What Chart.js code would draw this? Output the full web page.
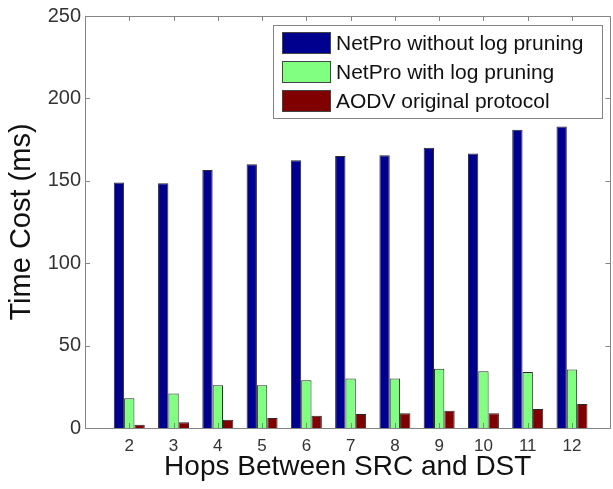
<!DOCTYPE html>
<html>
<head>
<meta charset="utf-8">
<script src="https://cdn.jsdelivr.net/npm/chart.js@4/dist/chart.umd.min.js"></script>
<style>
  body { margin: 0; background: #fff; }
  #wrap { width: 613px; height: 489px; }
</style>
</head>
<body>
<div id="wrap"><canvas id="chart" width="613" height="489"></canvas></div>
<script>
// data
const hops = [2, 3, 4, 5, 6, 7, 8, 9, 10, 11, 12];
const withoutPruning = [149, 148.5, 156.5, 160, 162.5, 165, 165.5, 170, 166.5, 181, 183];
const withPruning = [18, 21, 26, 26, 29, 30, 30, 36, 34.5, 34, 35.5];
const aodv = [2, 3.5, 5, 6, 7.5, 8.5, 9, 10.5, 9, 11.5, 14.5];
const yTicks = [0, 50, 100, 150, 200, 250];

const FONT = "'Liberation Sans', Arial, sans-serif";
const AXIS_GRAY = '#858585';

// MATLAB-like box with inward ticks + legend inside the axes
const matlabBox = {
    id: 'matlabBox',
    afterDatasetsDraw(chart) {
        const {ctx, chartArea: a, scales} = chart;
        ctx.save();
        ctx.strokeStyle = AXIS_GRAY;
        ctx.lineWidth = 1;
        ctx.beginPath();
        ctx.rect(Math.round(a.left) + 0.5, Math.round(a.top) + 0.5,
                 Math.round(a.right - a.left) - 1, Math.round(a.bottom - a.top));
        ctx.stroke();
        const len = 5;
        ctx.beginPath();
        scales.y.ticks.forEach(t => {
            const y = Math.round(scales.y.getPixelForValue(t.value)) + 0.5;
            ctx.moveTo(a.left, y); ctx.lineTo(a.left + len, y);
            ctx.moveTo(a.right, y); ctx.lineTo(a.right - len, y);
        });
        scales.x.ticks.forEach(t => {
            const x = Math.round(scales.x.getPixelForValue(t.value)) + 0.5;
            ctx.moveTo(x, a.bottom); ctx.lineTo(x, a.bottom - len);
            ctx.moveTo(x, a.top); ctx.lineTo(x, a.top + len);
        });
        ctx.stroke();

        // legend
        const lx = 273, ly = 25, lw = 329, lh = 93;
        ctx.fillStyle = '#fff';
        ctx.fillRect(lx, ly, lw, lh);
        ctx.strokeStyle = AXIS_GRAY;
        ctx.strokeRect(lx + 0.5, ly + 0.5, lw, lh);
        ctx.font = '21px ' + FONT;
        ctx.textBaseline = 'middle';
        chart.data.datasets.forEach((ds, i) => {
            const cy = 43 + i * 29;
            ctx.fillStyle = ds.backgroundColor;
            ctx.fillRect(282, cy - 11, 49, 22);
            ctx.strokeStyle = '#444';
            ctx.strokeRect(282.5, cy - 10.5, 48, 21);
            ctx.fillStyle = '#111';
            ctx.fillText(ds.label, 336, cy + 1);
        });
        ctx.restore();
    }
};

const ctx = document.getElementById('chart');

new Chart(ctx, {
    type: 'bar',
    data: {
        labels: hops,
        datasets: [
            { label: 'NetPro without log pruning', data: withoutPruning, backgroundColor: '#00008f' },
            { label: 'NetPro with log pruning', data: withPruning, backgroundColor: '#80ff80' },
            { label: 'AODV original protocol', data: aodv, backgroundColor: '#800000' }
        ]
    },
    options: {
        responsive: false,
        animation: false,
        layout: { padding: { top: 14, right: 2.5, left: 0, bottom: 0 } },
        datasets: {
            bar: {
                categoryPercentage: 0.7,
                barPercentage: 1,
                borderWidth: 1,
                borderColor: '#2a2a2a'
            }
        },
        plugins: {
            legend: { display: false },
            tooltip: { enabled: false }
        },
        scales: {
            x: {
                type: 'linear',
                offset: false,
                min: 1,
                max: 12.87,
                afterBuildTicks: s => { s.ticks = hops.map(v => ({ value: v })); },
                afterFit: s => { s.height = 61; },
                grid: { display: false, drawTicks: false },
                border: { display: false },
                ticks: {
                    color: '#333',
                    padding: 8,
                    maxRotation: 0,
                    autoSkip: false,
                    font: { family: FONT, size: 17 }
                },
                title: {
                    display: true,
                    text: 'Hops Between SRC and DST',
                    color: '#111',
                    font: { family: FONT, size: 28 },
                    padding: { top: 0, bottom: 5 }
                }
            },
            y: {
                min: 0,
                max: 250,
                afterBuildTicks: s => { s.ticks = yTicks.map(v => ({ value: v })); },
                afterFit: s => { s.width = 85; },
                grid: { display: false, drawTicks: false },
                border: { display: false },
                ticks: {
                    color: '#333',
                    padding: 4,
                    font: { family: FONT, size: 20 }
                },
                title: {
                    display: true,
                    text: 'Time Cost (ms)',
                    color: '#111',
                    font: { family: FONT, size: 29 },
                    padding: { top: 5, bottom: 0 }
                }
            }
        }
    },
    plugins: [matlabBox]
});
</script>
</body>
</html>
